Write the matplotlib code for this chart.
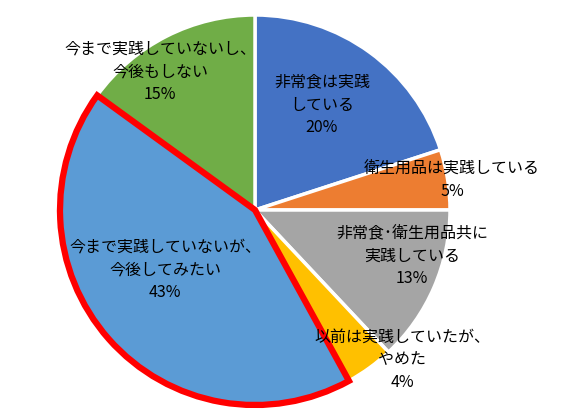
import matplotlib
matplotlib.use("Agg")
import matplotlib.pyplot as plt

plt.rcParams["font.family"] = ["Noto Sans CJK JP", "DejaVu Sans"]

labels = [
    "非常食は実践\nしている",
    "衛生用品は実践している",
    "非常食･衛生用品共に\n実践している",
    "以前は実践していたが、\nやめた",
    "今まで実践していないが、\n今後してみたい",
    "今まで実践していないし、\n今後もしない",
]
values = [20, 5, 13, 4, 43, 15]
colors = ["#4472C4", "#ED7D31", "#A5A5A5", "#FFC000", "#5B9BD5", "#70AD47"]
# label anchor positions in pixels (top-left origin)
label_pos = [(322, 105), (452, 180), (412, 256), (402, 360), (165, 270), (160, 72)]

W, H = 564, 417
fig = plt.figure(figsize=(W / 100, H / 100), dpi=100)
ax = fig.add_axes([0, 0, 1, 1])
ax.set_xlim(0, W)
ax.set_ylim(0, H)
ax.axis("off")

cx, cy, r = 255, H - 210, 195
wedges, _ = ax.pie(values, colors=colors, startangle=90, counterclock=False,
                   center=(cx, cy), radius=r, frame=True,
                   wedgeprops={"edgecolor": "white", "linewidth": 2.5})
ax.set_xlim(0, W)
ax.set_ylim(0, H)
ax.axis("off")

# highlighted slice
wedges[4].set_edgecolor("#FF0000")
wedges[4].set_linewidth(4.5)
wedges[4].set_zorder(5)

for lab, v, (px, py) in zip(labels, values, label_pos):
    ax.text(px, H - py, f"{lab}\n{v}%", ha="center", va="center",
            fontsize=11.5, linespacing=1.45, zorder=10)

fig.savefig("out.png", dpi=100)
